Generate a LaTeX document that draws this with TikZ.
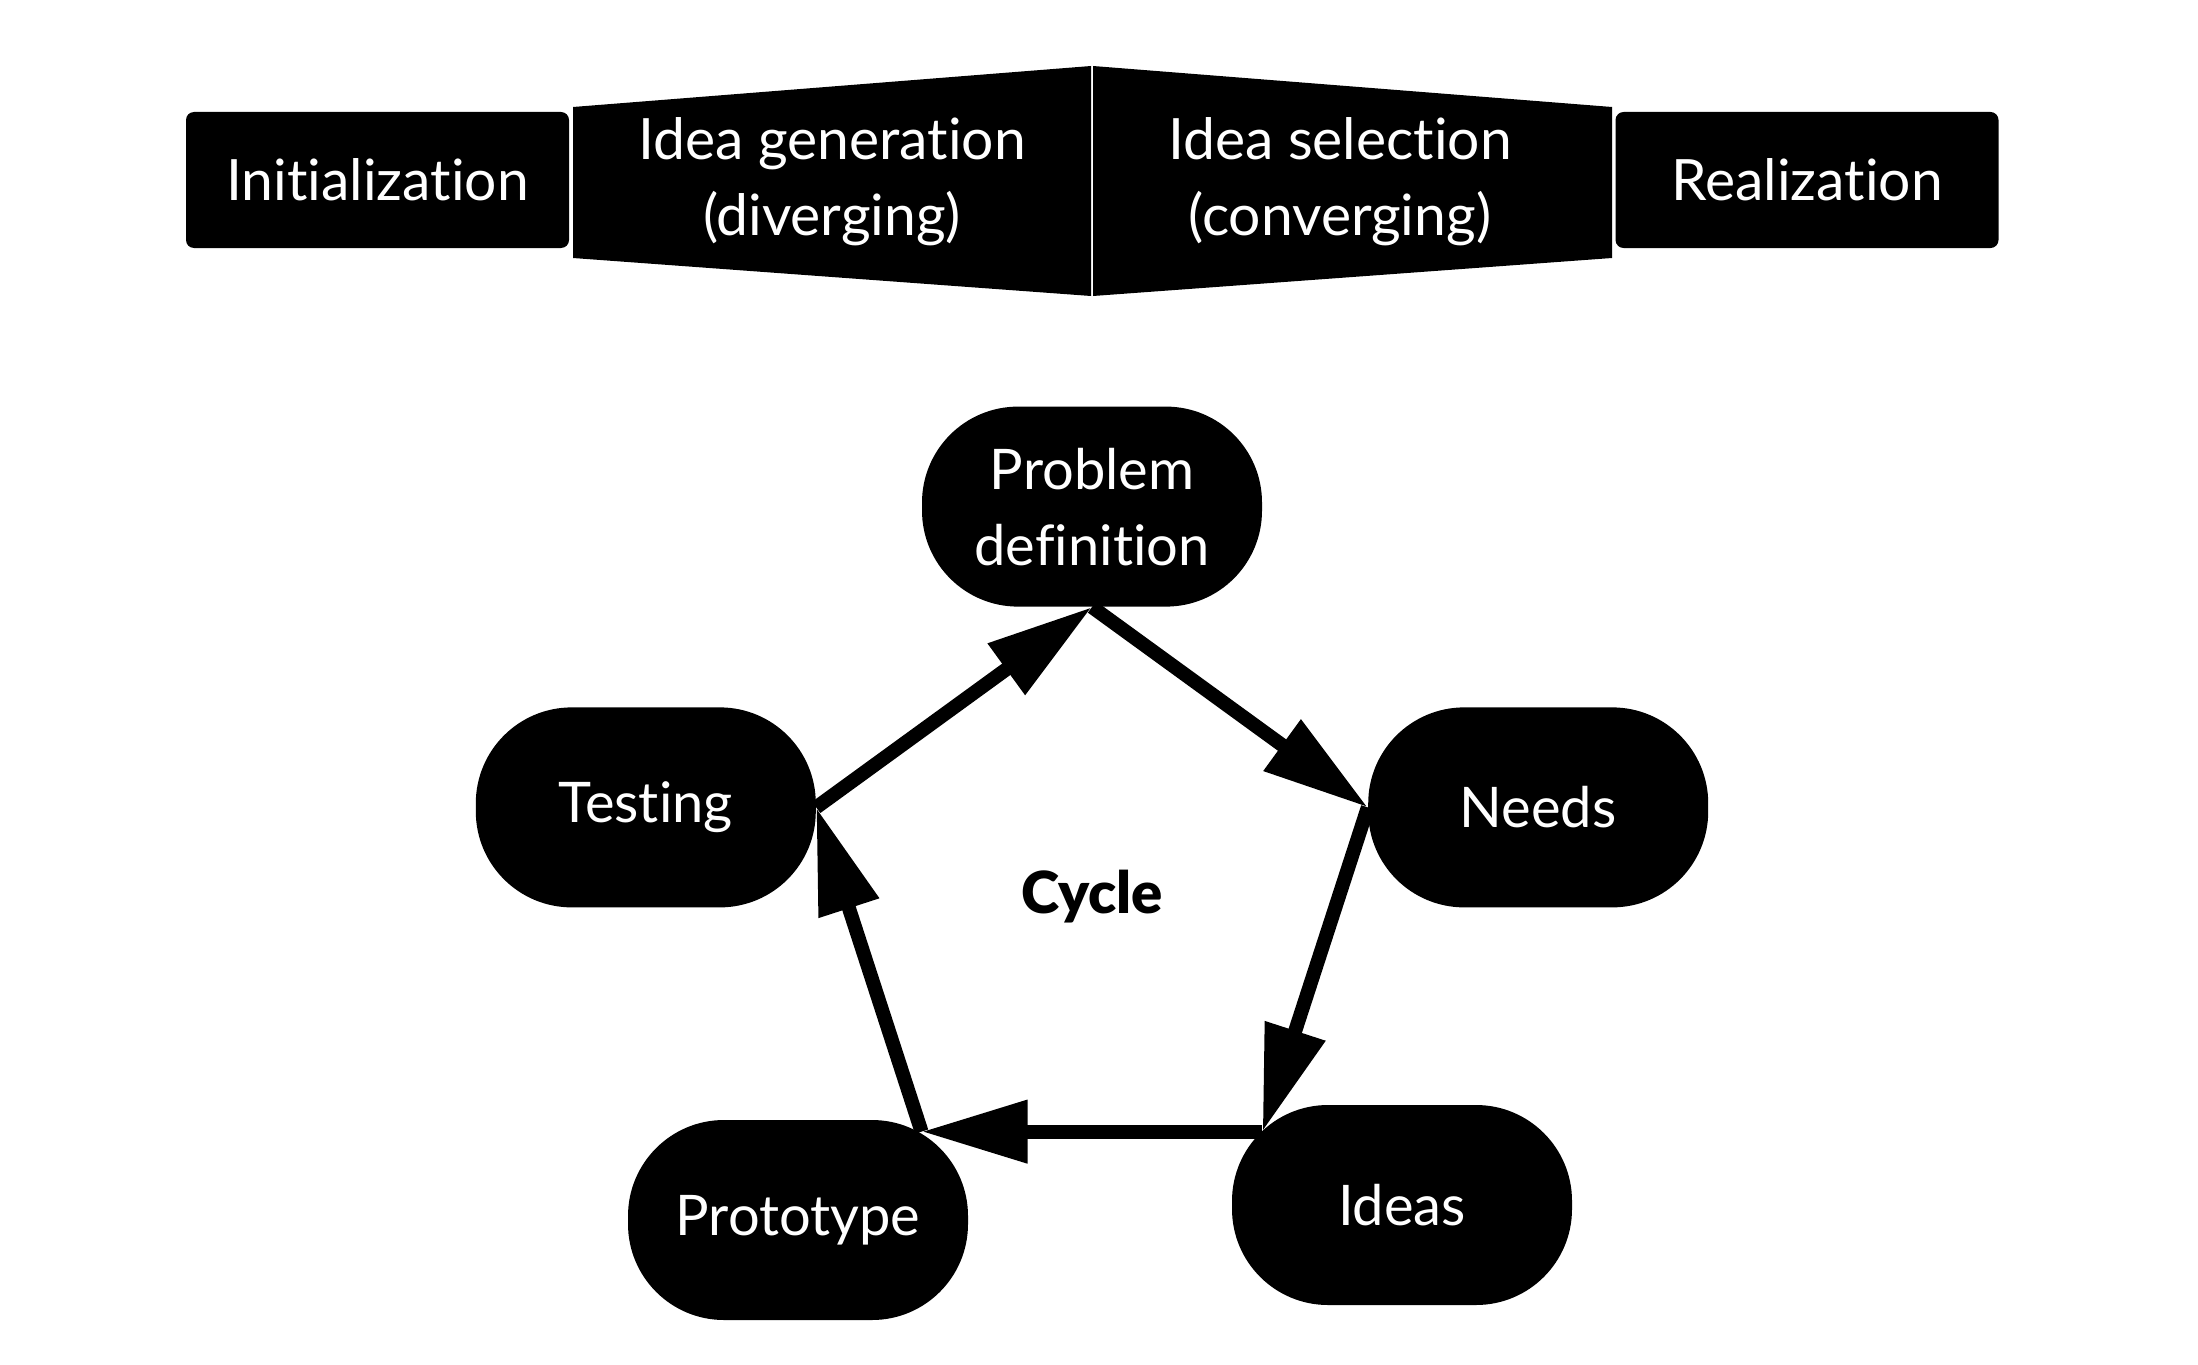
\documentclass[tikz,border=0pt]{standalone}
\usepackage{fontspec}
\setmainfont{Lato}[Ligatures=NoCommon]
\newfontfamily\heavyfont{Lato Black}
\usetikzlibrary{arrows.meta}

\begin{document}
\begin{tikzpicture}[x=0.5pt,y=-0.5pt
                    ]
                % define styles
\tikzset{phase/.style={text=white,
                       align=center,
                       font=\fontsize{28.5}{38}\selectfont,
                       },
         phasebox/.style={phase,
                       fill=black,
                       rounded corners=4pt,
                       minimum width=191.5pt,
                       minimum height=68pt,
                       inner sep=0,
                       },
         cyclebox/.style={fill=black,
                       text=white,
                       rounded corners=48pt,
                       minimum width=170pt,
                       minimum height=100pt,
                       inner sep=0,
                       align=center,
                       font=\fontsize{28}{38}\selectfont,
                       },
         flow/.style={line width=7pt,
                       -{Triangle[length=53pt,width=30pt]},
                       }
}

\useasboundingbox (0,0) rectangle (2198,1364);

% phases
\node[phasebox] (init) at (377.5,180) {Initialization};
\fill[black] (573,107) -- (1091,66) -- (1091,296) -- (573,258) -- cycle;
\fill[black] (1093,66) -- (1612,107) -- (1612,258) -- (1093,296) -- cycle;
\node[phase] (gen) at (832,182) {Idea generation\\(diverging)};
\node[phase] (sel) at (1340,182) {Idea selection\\(converging)};
\node[phasebox] (real) at (1807,180) {Realization};

% cycle corners
\coordinate (centr) at (1092,897);
\begin{scope}[shift=(centr)]
    \foreach \name/\angle in {v1/-90, v2/-18, v3/54, v4/126, v5/198}
        \coordinate (\name) at (\angle:290);
\end{scope}

% nodes
\node[cyclebox, anchor=south] (prob)  at (v1)         {Problem\\definition};
\node[cyclebox, anchor=west]  (needs) at (v2)         {Needs};
\node[cyclebox]               (ideas) at (1402,1205)  {Ideas};
\node[cyclebox]               (proto) at (798,1220)   {Prototype};
\node[cyclebox, anchor=east]  (test)  at (v5)         {Testing};

% label
\node[font=\fontsize{29}{34}\heavyfont] (cyc) at (centr) {Cycle};

% arrows
\draw[flow] (v5) -- (v1);
\draw[flow] (v1) -- (v2);
\draw[flow] (v2) -- (v3);
\draw[flow] (v3) -- (v4);
\draw[flow] (v4) -- (v5);

\end{tikzpicture}
\end{document}
